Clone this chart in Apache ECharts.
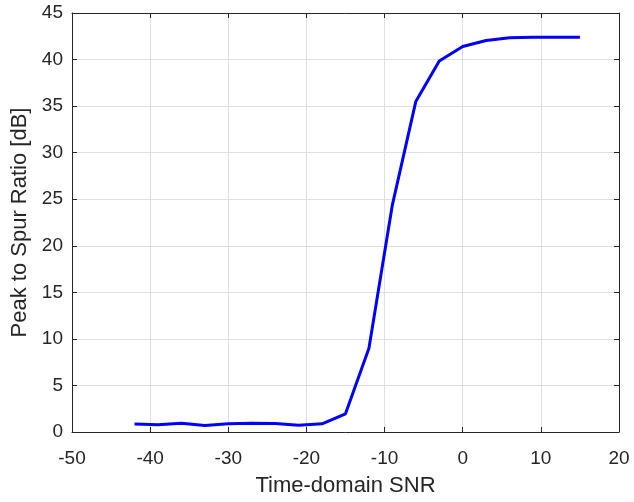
<!DOCTYPE html>
<html>
<head>
<meta charset="utf-8">
<script src="https://cdn.jsdelivr.net/npm/echarts@6/dist/echarts.min.js"></script>
<style>html,body{margin:0;padding:0;background:#fff;}#c{width:634px;height:502px;}</style>
</head>
<body>
<div id="c"></div>
<script>
const snr = [-42, -39, -36, -33, -30, -27, -24, -21, -18, -15, -12, -9, -6, -3, 0, 3, 6, 9, 12, 15];
const psr = [0.85, 0.78, 0.95, 0.7, 0.88, 0.93, 0.92, 0.72, 0.88, 1.95, 9.0, 24.4, 35.5, 39.85, 41.4, 42.05, 42.35, 42.4, 42.4, 42.4];
const xTicks = [-50, -40, -30, -20, -10, 0, 10, 20];
const yTicks = [0, 5, 10, 15, 20, 25, 30, 35, 40, 45];
const xTitle = 'Time-domain SNR';
const yTitle = 'Peak to Spur Ratio [dB]';

const font = 'Liberation Sans, Arial, Helvetica, sans-serif';
const axisCol = '#262626';
const gridCol = '#dfdfdf';

const chart = echarts.init(document.getElementById('c'), null, {renderer: 'canvas'});
const baseX = {
  type: 'value', min: xTicks[0], max: xTicks[xTicks.length - 1], interval: 10,
  axisLine: {show: true, onZero: false, lineStyle: {color: axisCol, width: 1}},
  axisTick: {show: true, inside: true, length: 5, lineStyle: {color: axisCol}},
  splitLine: {show: false}
};
const baseY = {
  type: 'value', min: yTicks[0], max: yTicks[yTicks.length - 1], interval: 5,
  axisLine: {show: true, onZero: false, lineStyle: {color: axisCol, width: 1}},
  axisTick: {show: true, inside: true, length: 5, lineStyle: {color: axisCol}},
  splitLine: {show: false}
};
chart.setOption({
  animation: false,
  backgroundColor: '#ffffff',
  grid: {left: 72, right: 15, top: 13, bottom: 65, containLabel: false},
  xAxis: [
    Object.assign({}, baseX, {
      position: 'bottom',
      splitLine: {show: true, lineStyle: {color: gridCol, width: 1}},
      axisLabel: {show: true, color: axisCol, fontFamily: font, fontSize: 19, margin: 17},
      name: xTitle, nameLocation: 'middle', nameGap: 43,
      nameTextStyle: {color: axisCol, fontFamily: font, fontSize: 22}
    }),
    Object.assign({}, baseX, {position: 'top', axisLabel: {show: false}})
  ],
  yAxis: [
    Object.assign({}, baseY, {
      position: 'left',
      splitLine: {show: true, lineStyle: {color: gridCol, width: 1}},
      axisLabel: {show: true, color: axisCol, fontFamily: font, fontSize: 19, margin: 9},
      name: yTitle, nameLocation: 'middle', nameGap: 40,
      nameTextStyle: {color: axisCol, fontFamily: font, fontSize: 22}
    }),
    Object.assign({}, baseY, {position: 'right', axisLabel: {show: false}})
  ],
  series: [{
    type: 'line',
    xAxisIndex: 0, yAxisIndex: 0,
    data: snr.map((x, i) => [x, psr[i]]),
    showSymbol: false, symbol: 'none',
    lineStyle: {color: '#0000ff', width: 3},
    smooth: false
  }]
});
</script>
</body>
</html>
